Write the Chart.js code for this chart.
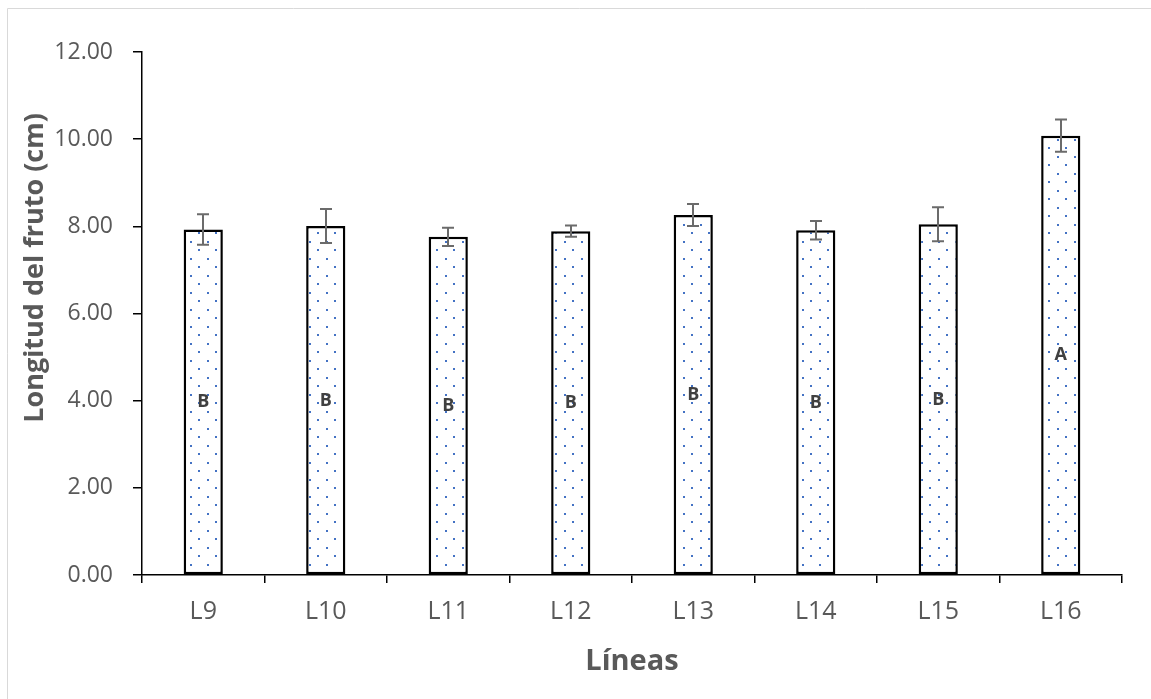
<!DOCTYPE html>
<html>
<head>
<meta charset="utf-8">
<script src="https://cdn.jsdelivr.net/npm/chart.js@4.4.1/dist/chart.umd.min.js"></script>
<style>
html, body { margin: 0; padding: 0; background: #fff; }
#wrap { width: 1151px; height: 699px; position: relative; }
</style>
</head>
<body>
<div id="wrap"><canvas id="lvcChart"></canvas></div>
<script>
// chart data
const categories = ['L9', 'L10', 'L11', 'L12', 'L13', 'L14', 'L15', 'L16'];
const means = [7.93, 8.01, 7.76, 7.89, 8.26, 7.91, 8.05, 10.08];
const errors = [0.35, 0.39, 0.21, 0.13, 0.25, 0.21, 0.39, 0.37];
const letters = ['B', 'B', 'B', 'B', 'B', 'B', 'B', 'A'];
const yTicks = [0, 2, 4, 6, 8, 10, 12];
const yTitle = 'Longitud del fruto (cm)';

const FONT = "'Open Sans', 'Noto Sans', sans-serif";

// dotted fill like the excel pattern
function makeDots() {
    const c = document.createElement('canvas');
    c.width = 17;
    c.height = 17;
    const g = c.getContext('2d');
    g.fillStyle = '#ffffff';
    g.fillRect(0, 0, 17, 17);
    g.fillStyle = '#4472c4';
    g.fillRect(3, 3, 2, 2);
    g.fillRect(11, 11, 2, 2);
    return g.createPattern(c, 'repeat');
}

// light frame around the chart + y title (excel puts it a bit above centre)
const framePlugin = {
    id: 'frame',
    beforeDraw(chart) {
        const ctx = chart.ctx;
        ctx.save();
        ctx.strokeStyle = '#d9d9d9';
        ctx.lineWidth = 1;
        ctx.beginPath();
        ctx.moveTo(7.5, chart.height);
        ctx.lineTo(7.5, 8.5);
        ctx.lineTo(chart.width, 8.5);
        ctx.stroke();
        ctx.translate(35, 268);
        ctx.rotate(-Math.PI / 2);
        ctx.fillStyle = '#595959';
        ctx.font = 'bold 27px ' + FONT;
        ctx.textAlign = 'center';
        ctx.textBaseline = 'middle';
        ctx.fillText(yTitle, 0, 0);
        ctx.restore();
    }
};

// error bars and letters
const extrasPlugin = {
    id: 'extras',
    afterDatasetsDraw(chart) {
        const ctx = chart.ctx;
        const x = chart.scales.x;
        const y = chart.scales.y;
        ctx.save();
        ctx.strokeStyle = '#6b6b6b';
        ctx.lineWidth = 2;
        means.forEach((m, i) => {
            const px = Math.round(x.getPixelForValue(i));
            const top = y.getPixelForValue(m + errors[i]);
            const bot = y.getPixelForValue(m - errors[i]);
            ctx.beginPath();
            ctx.moveTo(px, top);
            ctx.lineTo(px, bot);
            ctx.moveTo(px - 6, top);
            ctx.lineTo(px + 6, top);
            ctx.moveTo(px - 6, bot);
            ctx.lineTo(px + 6, bot);
            ctx.stroke();
        });
        ctx.fillStyle = '#404040';
        ctx.font = 'bold 18px ' + FONT;
        ctx.textAlign = 'center';
        ctx.textBaseline = 'middle';
        means.forEach((m, i) => {
            ctx.fillText(letters[i], x.getPixelForValue(i), y.getPixelForValue(m / 2));
        });
        ctx.restore();
    }
};

const ctx = document.getElementById('lvcChart').getContext('2d');
new Chart(ctx, {
    type: 'bar',
    data: {
        labels: categories,
        datasets: [{
            data: means,
            backgroundColor: makeDots(),
            borderColor: '#000000',
            borderWidth: 2.5,
            borderSkipped: false,
            barPercentage: 0.32,
            categoryPercentage: 1
        }]
    },
    options: {
        responsive: true,
        maintainAspectRatio: false,
        animation: false,
        layout: { padding: { left: 0, right: 29, top: 52, bottom: 0 } },
        plugins: {
            legend: { display: false },
            tooltip: { enabled: false }
        },
        scales: {
            x: {
                grid: { drawOnChartArea: false, offset: true, color: '#000000', tickLength: 8, lineWidth: 1.5 },
                border: { color: '#000000', width: 1.5 },
                ticks: { color: '#595959', font: { family: FONT, size: 25 }, padding: 14 },
                title: { display: true, text: 'Líneas', color: '#595959', font: { family: FONT, size: 29, weight: 'bold' }, padding: { top: 0, bottom: 20 } },
                afterFit(scale) { scale.height = 124; }
            },
            y: {
                min: 0,
                max: 12,
                afterBuildTicks(scale) { scale.ticks = yTicks.map(v => ({ value: v })); },
                grid: { drawOnChartArea: false, color: '#000000', tickLength: 9, lineWidth: 1.5 },
                border: { color: '#000000', width: 1.5 },
                ticks: { color: '#595959', font: { family: FONT, size: 23 }, padding: 20, callback: v => Number(v).toFixed(2) },
                afterFit(scale) { scale.width = 142; }
            }
        }
    },
    plugins: [framePlugin, extrasPlugin]
});
</script>
</body>
</html>
